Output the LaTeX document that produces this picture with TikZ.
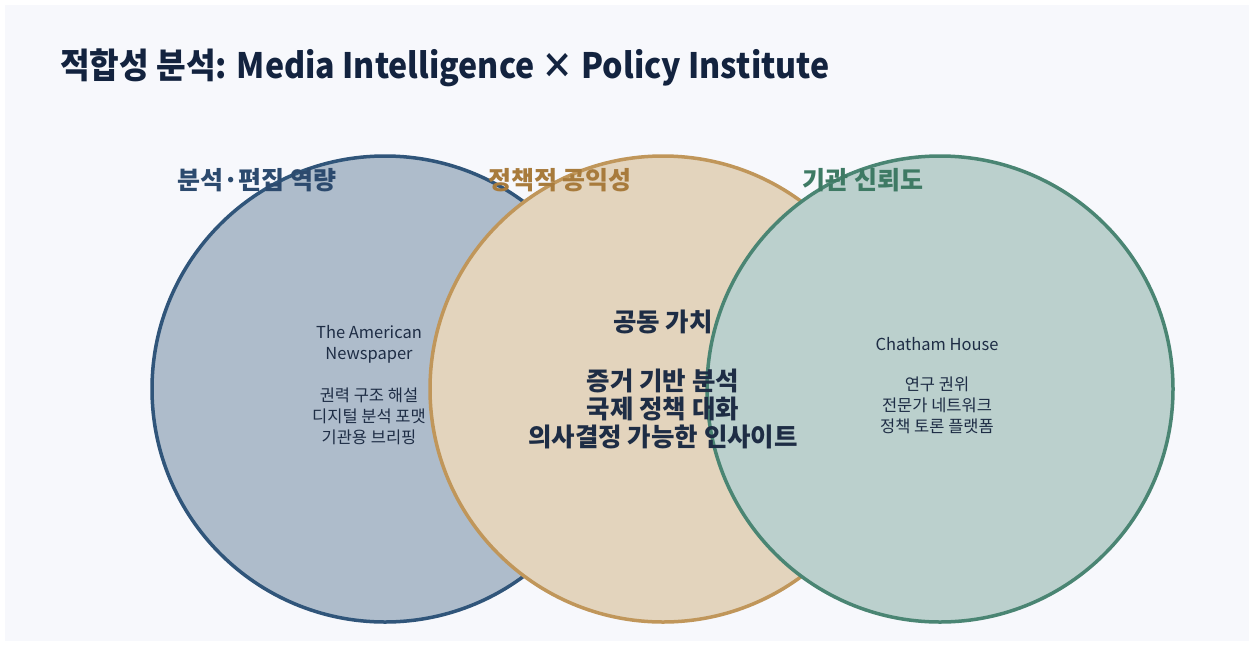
\documentclass[tikz,border=0pt]{standalone}
\usepackage{fontspec}
\setmainfont{Noto Sans CJK KR}
\definecolor{bgpanel}{HTML}{F7F8FC}
\definecolor{titlec}{HTML}{13233F}
\definecolor{aFill}{HTML}{AEBCCB}
\definecolor{aLine}{HTML}{30557A}
\definecolor{bFill}{HTML}{E3D4BD}
\definecolor{bLine}{HTML}{C0965A}
\definecolor{cFill}{HTML}{BBD0CD}
\definecolor{cLine}{HTML}{4A8573}
\definecolor{aText}{HTML}{2C4A6E}
\definecolor{bText}{HTML}{A87B3C}
\definecolor{cText}{HTML}{3E7A64}
\definecolor{bodyc}{HTML}{1E2D45}
\begin{document}
\begin{tikzpicture}[x=1pt,y=-1pt,
  venn/.style={circle, minimum size=466pt, inner sep=0pt, line width=3.5pt},
  setlabel/.style={font=\fontsize{25}{29}\selectfont\bfseries, anchor=center},
  smalltxt/.style={font=\fontsize{16.5}{21}\selectfont, text=bodyc, align=center},
  midtxt/.style={font=\fontsize{25.5}{28}\selectfont\bfseries, text=bodyc, align=center}]
\useasboundingbox (0,0) rectangle (1254,646);
\fill[white] (0,0) rectangle (1254,646);
\fill[bgpanel] (5,5) rectangle (1249,641);
\node[anchor=west, text=titlec, font=\fontsize{35}{40}\selectfont\bfseries, inner sep=0pt] (title) at (60,68) {\scalebox{0.92}[1]{적합성 분석: Media Intelligence × Policy Institute}};
\node[venn, fill=aFill, draw=aLine] (ca) at (385,389) {};
\node[venn, fill=bFill, draw=bLine] (cb) at (663,389) {};
\node[venn, fill=cFill, draw=cLine] (cc) at (940,389) {};
\node[setlabel, text=aText] (la) at (257,180) {분석·편집 역량};
\node[setlabel, text=bText] (lb) at (560,180) {정책적 공익성};
\node[setlabel, text=cText] (lc) at (863,180) {기관 신뢰도};
\node[smalltxt] (ta) at (369,344) {The American\\Newspaper};
\node[smalltxt] (ta2) at (369,416) {권력 구조 해설\\디지털 분석 포맷\\기관용 브리핑};
\node[midtxt] (tb) at (663,322) {공동 가치};
\node[midtxt] (tb2) at (663,409) {증거 기반 분석\\국제 정책 대화\\의사결정 가능한 인사이트};
\node[smalltxt] (tc) at (937,344) {Chatham House};
\node[smalltxt] (tc2) at (937,405) {연구 권위\\전문가 네트워크\\정책 토론 플랫폼};
\end{tikzpicture}
\end{document}
